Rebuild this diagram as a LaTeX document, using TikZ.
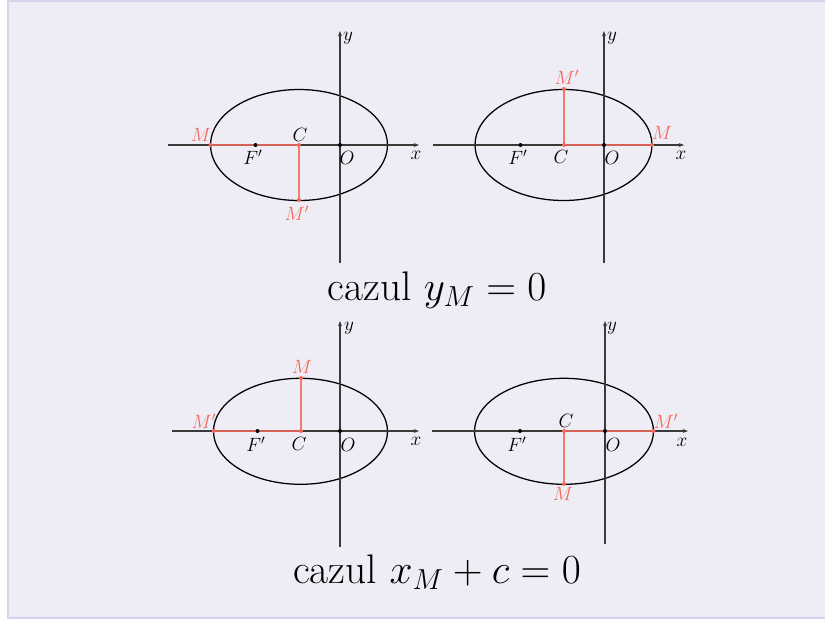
\RequirePackage{fix-cm}
\documentclass[tikz,border=0pt]{standalone}
\usetikzlibrary{arrows.meta}
\definecolor{bg}{HTML}{EEEDF6}
\definecolor{framec}{HTML}{D6D4EA}
\definecolor{rd}{HTML}{F2695A}
\definecolor{ax}{HTML}{3A3A3A}
\tikzset{
  axisline/.style={draw=ax, line width=0.9pt, -{Stealth[length=4pt,width=3pt]}},
  ell/.style={draw=black, line width=0.95pt},
  seg/.style={draw=rd, line width=1pt, opacity=0.85},
  lbl/.style={font=\fontsize{14.4}{17}\selectfont, inner sep=0pt, text=black},
  rlbl/.style={lbl, text=rd},
  bigtext/.style={font=\fontsize{31}{36}\selectfont, inner sep=0pt, anchor=base},
  bdot/.style={fill=black},
  rdot/.style={fill=rd}
}
\begin{document}
\begin{tikzpicture}[x=0.75pt,y=-0.75pt]
\useasboundingbox (0,0) rectangle (825,619);
\fill[white] (0,0) rectangle (825,619);
\fill[bg] (7,0) rectangle (825,619);
\draw[framec, line width=1.5pt] (7.5,619) -- (7.5,1) -- (825,1);
\draw[framec, line width=1.5pt] (7.5,617.5) -- (825,617.5);

% ---------- top-left ----------
\coordinate (tlO) at (340,145);
\coordinate (tlC) at (299,145);
\coordinate (tlF) at (255.5,145);
\coordinate (tlM) at (210.5,145);
\coordinate (tlMp) at (299,200);
\coordinate (tlxa) at (168,145);
\coordinate (tlxb) at (419,145);
\coordinate (tlya) at (340,263);
\coordinate (tlyb) at (340,31);
\draw[ell] (tlC) ellipse [x radius=88.5, y radius=55.5];
\draw[axisline] (tlxa) -- (tlxb);
\draw[axisline] (tlya) -- (tlyb);
\draw[seg] (tlM) -- (tlC);
\draw[seg] (tlC) -- (tlMp);
\fill[bdot] (tlO) circle [radius=2];
\fill[bdot] (tlF) circle [radius=2];
\fill[rdot] (tlM) circle [radius=2];
\fill[rdot] (tlC) circle [radius=2];
\fill[rdot] (tlMp) circle [radius=2];
\node[rlbl] (tlMl) at (201,135) {$M$};
\node[lbl] (tlCl) at (300,135) {$C$};
\node[lbl] (tlFl) at (253,157) {$F'$};
\node[lbl] (tlOl) at (347,158) {$O$};
\node[rlbl] (tlMpl) at (297,213) {$M'$};
\node[lbl] (tlxl) at (416,155) {$x$};
\node[lbl] (tlyl) at (348,38) {$y$};

% ---------- top-right ----------
\coordinate (trO) at (604,145);
\coordinate (trC) at (564,145);
\coordinate (trF) at (520.5,145);
\coordinate (trM) at (652,145);
\coordinate (trMp) at (564,89);
\coordinate (trxa) at (433,145);
\coordinate (trxb) at (684,145);
\coordinate (trya) at (604,263);
\coordinate (tryb) at (604,31);
\draw[ell] (563.5,145) ellipse [x radius=88.5, y radius=55.5];
\draw[axisline] (trxa) -- (trxb);
\draw[axisline] (trya) -- (tryb);
\draw[seg] (trC) -- (trM);
\draw[seg] (trC) -- (trMp);
\fill[bdot] (trO) circle [radius=2];
\fill[bdot] (trF) circle [radius=2];
\fill[rdot] (trM) circle [radius=2];
\fill[rdot] (trC) circle [radius=2];
\fill[rdot] (trMp) circle [radius=2];
\node[rlbl] (trMl) at (662,133) {$M$};
\node[lbl] (trCl) at (561,157) {$C$};
\node[lbl] (trFl) at (518,157) {$F'$};
\node[lbl] (trOl) at (612,158) {$O$};
\node[rlbl] (trMpl) at (567,77) {$M'$};
\node[lbl] (trxl) at (681,155) {$x$};
\node[lbl] (tryl) at (612,38) {$y$};

\node[bigtext] (t1) at (437,300) {cazul $y_M=0$};

% ---------- bottom-left ----------
\coordinate (blO) at (340,431);
\coordinate (blC) at (301,431);
\coordinate (blF) at (257.5,431);
\coordinate (blMp) at (213.5,431);
\coordinate (blM) at (301,378);
\coordinate (blxa) at (172,431);
\coordinate (blxb) at (419,431);
\coordinate (blya) at (340,547);
\coordinate (blyb) at (340,321);
\draw[ell] (300.5,431.3) ellipse [x radius=87, y radius=53];
\draw[axisline] (blxa) -- (blxb);
\draw[axisline] (blya) -- (blyb);
\draw[seg] (blMp) -- (blC);
\draw[seg] (blC) -- (blM);
\fill[bdot] (blO) circle [radius=2];
\fill[bdot] (blF) circle [radius=2];
\fill[rdot] (blM) circle [radius=2];
\fill[rdot] (blC) circle [radius=2];
\fill[rdot] (blMp) circle [radius=2];
\node[rlbl] (blMl) at (302,367) {$M$};
\node[rlbl] (blMpl) at (204,421) {$M'$};
\node[lbl] (blCl) at (299,444) {$C$};
\node[lbl] (blFl) at (256,444) {$F'$};
\node[lbl] (blOl) at (348,445) {$O$};
\node[lbl] (blxl) at (416,441) {$x$};
\node[lbl] (blyl) at (349,328) {$y$};

% ---------- bottom-right ----------
\coordinate (brO) at (605,431);
\coordinate (brC) at (564,431);
\coordinate (brF) at (520,431);
\coordinate (brMp) at (653.5,431);
\coordinate (brM) at (564,484);
\coordinate (brxa) at (432,431);
\coordinate (brxb) at (688,431);
\coordinate (brya) at (605,544);
\coordinate (bryb) at (605,321);
\draw[ell] (564,431.3) ellipse [x radius=89.5, y radius=53];
\draw[axisline] (brxa) -- (brxb);
\draw[axisline] (brya) -- (bryb);
\draw[seg] (brC) -- (brMp);
\draw[seg] (brC) -- (brM);
\fill[bdot] (brO) circle [radius=2];
\fill[bdot] (brF) circle [radius=2];
\fill[rdot] (brM) circle [radius=2];
\fill[rdot] (brC) circle [radius=2];
\fill[rdot] (brMp) circle [radius=2];
\node[lbl] (brCl) at (566,421) {$C$};
\node[rlbl] (brMpl) at (666,421) {$M'$};
\node[rlbl] (brMl) at (563,494) {$M$};
\node[lbl] (brFl) at (517,444) {$F'$};
\node[lbl] (brOl) at (613,445) {$O$};
\node[lbl] (brxl) at (682,442) {$x$};
\node[lbl] (bryl) at (612,328) {$y$};

\node[bigtext] (t2) at (437,583) {cazul $x_M+c=0$};
\end{tikzpicture}
\end{document}
